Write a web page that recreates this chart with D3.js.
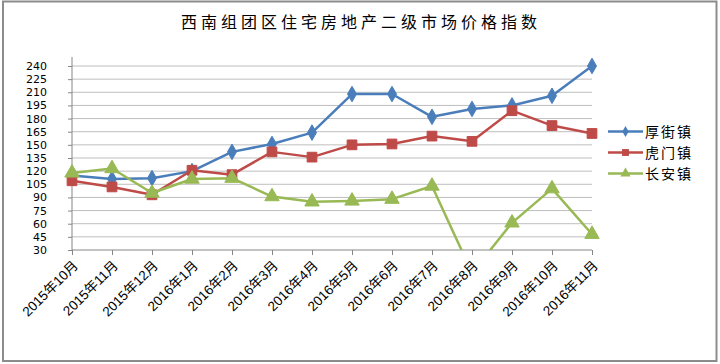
<!DOCTYPE html>
<html><head><meta charset="utf-8">
<script src="https://cdn.jsdelivr.net/npm/d3@7"></script>
<style>html,body{margin:0;padding:0;background:#fff;}</style>
</head><body>
<svg id="c" width="720" height="364"></svg>
<script>
const categories = ["2015年10月","2015年11月","2015年12月","2016年1月","2016年2月","2016年3月","2016年4月","2016年5月","2016年6月","2016年7月","2016年8月","2016年9月","2016年10月","2016年11月"];
const houjie = [115, 111, 112, 120, 142, 151, 164, 208, 208, 182, 191, 195, 206, 240];
const humen = [109, 102, 93, 121, 116, 142, 136, 150, 151, 160, 154, 189, 172, 163];
const changan = [118, 123, 95, 111, 112, 91, 85, 86, 88, 103, 4, 61, 100, 48];
const seriesNames = ["厚街镇","虎门镇","长安镇"];
const yTicks = [30,45,60,75,90,105,120,135,150,165,180,195,210,225,240];
const colors = ["#4A7EBB","#BE4B48","#98B954"];
const title = "西南组团区住宅房地产二级市场价格指数";

const svg = d3.select("#c");
// frame
svg.append("rect").attr("x",3).attr("y",1.5).attr("width",713.5).attr("height",359.5)
  .attr("fill","#fff").attr("stroke","#8c8c8c").attr("stroke-width",2);

svg.append("text").attr("x",361).attr("y",28).attr("text-anchor","middle")
  .attr("font-family","'Noto Sans CJK SC'").attr("font-size",16).attr("letter-spacing",4)
  .attr("fill","#000").text(title);

const x = d3.scalePoint().domain(categories).range([72,592]);
const y = d3.scaleLinear().domain([30,240]).range([250,66]);

// gridlines
svg.append("g").selectAll("line").data(yTicks.slice(1)).join("line")
  .attr("x1",72).attr("x2",592).attr("y1",d=>y(d)).attr("y2",d=>y(d))
  .attr("stroke","#BEBEBE").attr("stroke-width",1);

// y axis
const yAxis = d3.axisLeft(y).tickValues(yTicks).tickSize(4).tickPadding(21);
const gy = svg.append("g").attr("transform","translate(72,0)").call(yAxis);
gy.select(".domain").remove();
gy.append("line").attr("x1",0).attr("x2",0).attr("y1",57).attr("y2",250).attr("stroke","#868686");
gy.selectAll(".tick line").attr("stroke","#868686");
gy.selectAll(".tick text").attr("font-family","'DejaVu Sans', Verdana").attr("font-size",11).attr("fill","#000");

// x axis
const xAxis = d3.axisBottom(x).tickSize(5).tickFormat(d=>d);
const gx = svg.append("g").attr("transform","translate(0,250)").call(xAxis);
gx.select(".domain").remove();
gx.append("line").attr("x1",72).attr("x2",592).attr("y1",0).attr("y2",0).attr("stroke","#868686");
gx.selectAll(".tick line").attr("stroke","#868686");
gx.selectAll(".tick text")
  .attr("font-family","'Liberation Sans','Noto Sans CJK SC'").attr("font-size",13.5).attr("fill","#000")
  .attr("text-anchor","end").attr("y",0).attr("dy","0.35em")
  .attr("transform","translate(3,13) rotate(-45)");

// clip
svg.append("clipPath").attr("id","clip").append("rect").attr("x",60).attr("y",50).attr("width",545).attr("height",200);

const all = [houjie, humen, changan];
const line = d3.line().x((d,i)=>x(categories[i])).y(d=>y(d));
const symbols = [d3.symbolDiamond, d3.symbolSquare, d3.symbolTriangle];
const sizes = [70, 95, 90];

all.forEach((vals,k)=>{
  const g = svg.append("g").attr("clip-path","url(#clip)");
  g.append("path").datum(vals).attr("d",line).attr("fill","none")
    .attr("stroke",colors[k]).attr("stroke-width",2.5).attr("stroke-linejoin","round");
  g.selectAll("path.m").data(vals).join("path").attr("class","m")
    .attr("d",d3.symbol().type(symbols[k]).size(sizes[k]))
    .attr("transform",(d,i)=>`translate(${x(categories[i])},${y(d)})`)
    .attr("fill",colors[k]).attr("stroke",colors[k]).attr("stroke-width",1);
});

// legend
const lg = svg.append("g");
seriesNames.forEach((n,k)=>{
  const yy = 131.5 + k*21;
  lg.append("line").attr("x1",608).attr("x2",643).attr("y1",yy).attr("y2",yy)
    .attr("stroke",colors[k]).attr("stroke-width",2.5);
  lg.append("path").attr("d",d3.symbol().type(symbols[k]).size(sizes[k]*0.5))
    .attr("transform",`translate(625.5,${yy})`).attr("fill",colors[k]);
  lg.append("text").attr("x",645).attr("y",yy).attr("dy","0.36em")
    .attr("font-family","'Noto Sans CJK SC'").attr("font-size",14).attr("letter-spacing",2)
    .attr("fill","#000").text(n);
});
</script>
</body></html>
